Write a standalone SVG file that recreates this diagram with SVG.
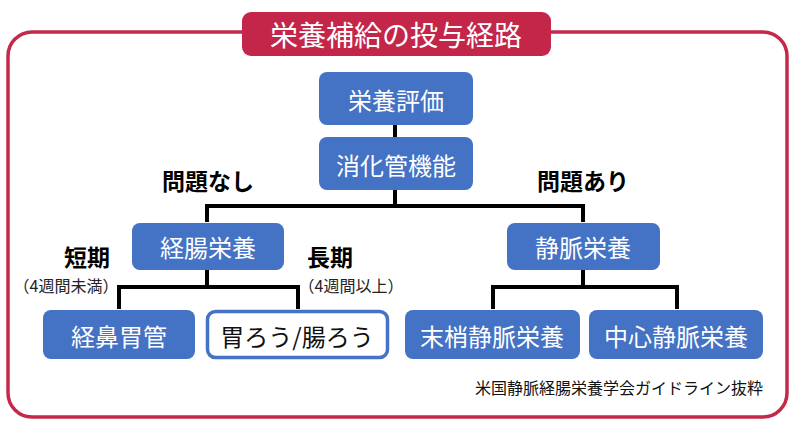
<svg xmlns="http://www.w3.org/2000/svg" width="797" height="427" viewBox="0 0 797 427">
<style>
.frame{fill:none;stroke:#C4284A;stroke-width:3.5}
.node{fill:#4472C4}
.nt{fill:#fff;font-family:"Noto Sans CJK JP","Noto Sans",sans-serif;font-size:24px;text-anchor:middle;dominant-baseline:central}
.lbl{fill:#000;font-family:"Noto Sans CJK JP","Noto Sans",sans-serif;font-size:23px;font-weight:bold;text-anchor:middle;dominant-baseline:central}
.sub{fill:#222;font-family:"Noto Sans CJK JP","Noto Sans",sans-serif;font-size:16px;text-anchor:middle;dominant-baseline:central}
.conn{fill:none;stroke:#000;stroke-width:4;stroke-linejoin:miter}
</style>
<rect width="797" height="427" fill="#fff"/>
<rect class="frame" x="8" y="32" width="779" height="385" rx="24"/>
<g id="title">
<rect x="242" y="12" width="309" height="44" rx="9" fill="#C4264A"/>
<text x="396" y="34" fill="#fff" font-family="'Noto Sans CJK JP','Noto Sans',sans-serif" font-size="28" text-anchor="middle" dominant-baseline="central">栄養補給の投与経路</text>
</g>
<g id="connectors">
<path class="conn" d="M395 125V137"/>
<path class="conn" d="M395 190V206M207 222V206H583V222"/>
<path class="conn" d="M207 270V287M119 309V287H298V309"/>
<path class="conn" d="M583 270V287M493 309V287H677V309"/>
</g>
<g id="n-hyoka"><rect class="node" x="319" y="72" width="154" height="53" rx="8"/><text class="nt" x="396" y="99">栄養評価</text></g>
<g id="n-shoka"><rect class="node" x="319" y="137" width="154" height="53" rx="8"/><text class="nt" x="396" y="164">消化管機能</text></g>
<g id="n-keicho"><rect class="node" x="132" y="223" width="152" height="47" rx="8"/><text class="nt" x="208" y="246">経腸栄養</text></g>
<g id="n-jomyaku"><rect class="node" x="507" y="223" width="153" height="47" rx="8"/><text class="nt" x="583" y="246">静脈栄養</text></g>
<g id="n-keibi"><rect class="node" x="43" y="310" width="152" height="49" rx="8"/><text class="nt" x="119" y="335">経鼻胃管</text></g>
<g id="n-irou"><rect x="207.5" y="311.5" width="180" height="46" rx="8" fill="#fff" stroke="#4472C4" stroke-width="3.5"/><text class="nt" x="297" y="335" style="fill:#111">胃ろう/腸ろう</text></g>
<g id="n-masho"><rect class="node" x="405" y="310" width="175" height="49" rx="8"/><text class="nt" x="492" y="335">末梢静脈栄養</text></g>
<g id="n-chushin"><rect class="node" x="589" y="310" width="174" height="49" rx="8"/><text class="nt" x="676" y="335">中心静脈栄養</text></g>
<g id="labels">
<text class="lbl" x="208" y="180">問題なし</text>
<text class="lbl" x="583" y="180">問題あり</text>
<text class="lbl" x="87" y="256">短期</text>
<text class="sub" x="66" y="285">（4週間未満）</text>
<text class="lbl" x="330" y="256">長期</text>
<text class="sub" x="351" y="285">（4週間以上）</text>
<text x="763" y="387" fill="#111" font-family="'Noto Sans CJK JP','Noto Sans',sans-serif" font-size="16" text-anchor="end" dominant-baseline="central">米国静脈経腸栄養学会ガイドライン抜粋</text>
</g>
</svg>
